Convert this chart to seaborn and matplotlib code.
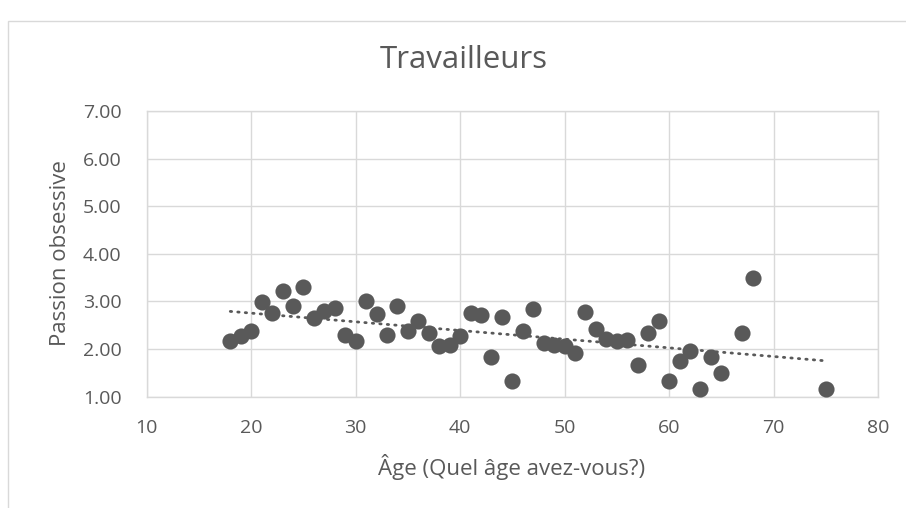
import numpy as np
import pandas as pd
import matplotlib
matplotlib.use('Agg')
import matplotlib.pyplot as plt
import seaborn as sns
from matplotlib.ticker import FormatStrFormatter

# données
age = [18, 19, 20, 21, 22, 23, 24, 25, 26, 27, 28, 29, 30, 31, 32, 33, 34, 35, 36, 37,
       38, 39, 40, 41, 42, 43, 44, 45, 46, 47, 48, 49, 50, 51, 52, 53, 54, 55, 56, 57,
       58, 59, 60, 61, 62, 63, 64, 65, 67, 68, 75]
passion = [2.16, 2.28, 2.37, 2.98, 2.75, 3.23, 2.91, 3.30, 2.65, 2.79, 2.86, 2.30, 2.18, 3.02, 2.73, 2.29, 2.91, 2.37, 2.60, 2.33,
           2.07, 2.08, 2.28, 2.76, 2.71, 1.83, 2.68, 1.32, 2.39, 2.84, 2.12, 2.08, 2.07, 1.91, 2.78, 2.42, 2.22, 2.16, 2.19, 1.66,
           2.33, 2.58, 1.32, 1.74, 1.96, 1.16, 1.83, 1.49, 2.33, 3.49, 1.16]
x_ticks = [10, 20, 30, 40, 50, 60, 70, 80]
y_ticks = [1, 2, 3, 4, 5, 6, 7]

df = pd.DataFrame({'age': age, 'passion': passion})

sns.set_style('white')
plt.rcParams['font.family'] = ['Open Sans', 'DejaVu Sans']

W, H = 906, 508
fig = plt.figure(figsize=(W / 100, H / 100), dpi=100)
ax = fig.add_axes([146.7 / W, 1 - 396.7 / H, (878 - 146.7) / W, (396.7 - 111) / H])

gray = '#595959'
grid = '#d9d9d9'

sns.regplot(x='age', y='passion', data=df, ax=ax, ci=None, truncate=True,
            scatter_kws={'s': 135, 'color': gray, 'alpha': 1, 'linewidths': 0, 'zorder': 3},
            line_kws={'color': gray, 'linewidth': 2, 'linestyle': (0, (0.5, 2.2)),
                      'dash_capstyle': 'round', 'zorder': 4})

ax.set_xlim(10, 80)
ax.set_ylim(1, 7)
ax.set_xticks(x_ticks)
ax.set_yticks(y_ticks)
ax.yaxis.set_major_formatter(FormatStrFormatter('%.2f'))
ax.grid(True, color=grid, linewidth=1)
ax.set_axisbelow(True)
for s in ax.spines.values():
    s.set_color(grid)
    s.set_linewidth(1)
ax.tick_params(axis='both', length=0, labelsize=14, labelcolor=gray)
ax.tick_params(axis='y', pad=18)
ax.tick_params(axis='x', pad=16)
ax.set_xlabel('')
ax.set_ylabel('')

fig.text(463.5 / W, 1 - 68 / H, 'Travailleurs', fontsize=22.5, color=gray, ha='center', va='baseline')
fig.text(512 / W, 1 - 475 / H, 'Âge (Quel âge avez-vous?)', fontsize=16, color=gray, ha='center', va='baseline')
fig.text(60 / W, 1 - 253 / H, 'Passion obsessive', fontsize=16, color=gray, ha='center', va='center', rotation=90)

# cadre du graphique
fig.patches.append(plt.Rectangle((8 / W, -0.1), 1.0, 1 - 21 / H + 0.1, transform=fig.transFigure,
                                 fill=False, edgecolor=grid, linewidth=1))

fig.savefig('out.png', dpi=100)
